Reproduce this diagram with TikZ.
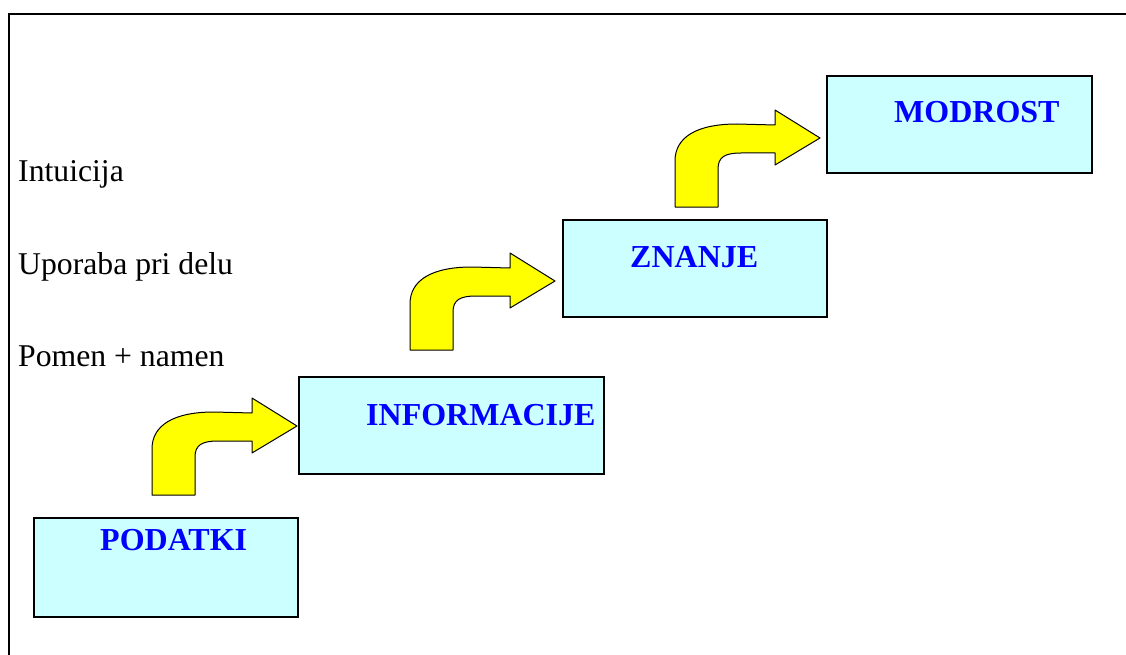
\documentclass[tikz,border=0pt]{standalone}
\usepackage{fontspec}
\setmainfont{Liberation Serif}
\definecolor{boxfill}{HTML}{CCFFFF}
\definecolor{boxtext}{HTML}{0000FF}
\definecolor{arrowfill}{HTML}{FFFF00}
\tikzset{
  stage/.style={draw=black, line width=2pt, fill=boxfill, inner sep=0pt, outer sep=0pt},
  stagetext/.style={anchor=base west, inner sep=0pt, text=boxtext, font=\fontsize{32}{36}\selectfont\bfseries},
  sidetext/.style={anchor=base west, inner sep=0pt, text=black, font=\fontsize{31.7}{36}\selectfont},
  bentarrow/.pic={
    \draw[line width=1pt, fill=arrowfill, line join=round]
      (0,0) -- (43,0) -- (43,-38)
      .. controls (43,-50) and (50,-54) .. (66,-54)
      -- (100,-54) -- (100,-42) -- (145,-69) -- (100,-97) -- (100,-82)
      -- (62,-83) .. controls (22,-83) and (0,-70) .. (0,-46) -- cycle;
  }
}
\begin{document}
\begin{tikzpicture}[x=1pt, y=-1pt]
\useasboundingbox (0,0) rectangle (1126,655);
% frame
\draw[line width=2.5pt] (9,660) -- (9,14) -- (1130,14);
% side labels
\node[sidetext] (intu) at (18,182) {Intuicija};
\node[sidetext] (upor) at (18,274) {Uporaba pri delu};
\node[sidetext] (pomen) at (18,366) {Pomen + namen};
% boxes
\node[stage, minimum width=264pt, minimum height=99pt] (pod) at (166,567.5) {};
\node[stage, minimum width=305pt, minimum height=97pt] (inf) at (451.5,425.5) {};
\node[stage, minimum width=264pt, minimum height=97pt] (zna) at (695,268.5) {};
\node[stage, minimum width=265pt, minimum height=97pt] (mod) at (959.5,124.5) {};
% box texts
\node[stagetext] (podt) at (100,550) {PODATKI};
\node[stagetext] (inft) at (366,425) {INFORMACIJE};
\node[stagetext] (znat) at (630,267) {ZNANJE};
\node[stagetext] (modt) at (894,123) {MODROST};
% arrows
\pic at (152,495) {bentarrow};
\pic at (410,350) {bentarrow};
\pic at (675,207) {bentarrow};
\end{tikzpicture}
\end{document}
